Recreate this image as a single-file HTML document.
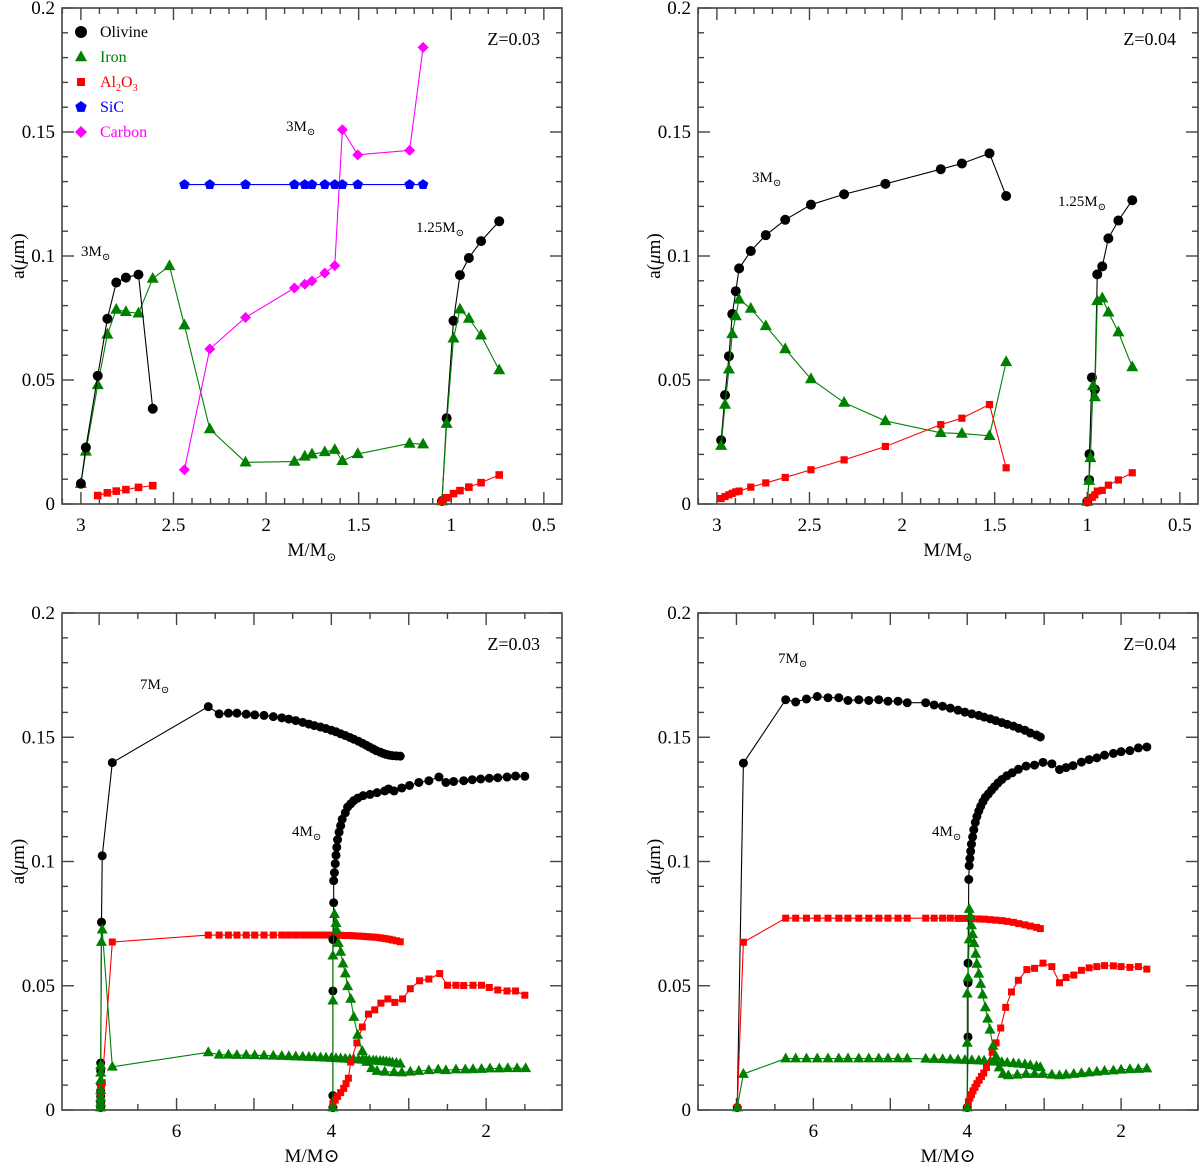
<!DOCTYPE html>
<html><head><meta charset="utf-8"><style>
body{margin:0;background:#fff}
svg{display:block}
text{font-family:"Liberation Serif","DejaVu Serif",serif}
</style></head><body>
<svg id="fig" width="1200" height="1165" viewBox="0 0 1200 1165" xmlns="http://www.w3.org/2000/svg"></svg>
<script>
// ---------- Panel A: Z=0.03, 3Msun & 1.25Msun ----------
const a_ol3_x=[3.0,2.973,2.909,2.857,2.809,2.757,2.689,2.612];
const a_ol3_y=[0.0082,0.0228,0.0517,0.0747,0.0893,0.0913,0.0925,0.0384];
const a_fe3_x=[3.0,2.973,2.909,2.857,2.809,2.757,2.689,2.612,2.522,2.441,2.304,2.111,1.847,1.791,1.752,1.683,1.629,1.588,1.505,1.225,1.152];
const a_fe3_y=[0.0082,0.0212,0.048,0.0684,0.0784,0.0775,0.0769,0.0909,0.096,0.0721,0.0302,0.0168,0.0171,0.0192,0.0201,0.021,0.0219,0.0174,0.0202,0.0244,0.0241];
const a_al3_x=[2.909,2.857,2.809,2.757,2.689,2.612];
const a_al3_y=[0.0034,0.0045,0.0052,0.0058,0.0067,0.0074];
const a_c_x=[2.441,2.304,2.111,1.847,1.791,1.752,1.683,1.629,1.588,1.505,1.225,1.152];
const a_sic_y=[0.1288,0.1288,0.1288,0.1288,0.1288,0.1288,0.1288,0.1288,0.1288,0.1288,0.1288,0.1288];
const a_carb_y=[0.0138,0.0625,0.0752,0.0871,0.0886,0.0899,0.0931,0.0961,0.1509,0.1408,0.1426,0.1841];
const a_ol1_x=[1.05,1.025,0.988,0.953,0.905,0.839,0.741];
const a_ol1_y=[0.0012,0.0346,0.0739,0.0923,0.0992,0.106,0.114];
const a_fe1_y=[0.0012,0.0324,0.0668,0.0785,0.0748,0.068,0.054];
const a_al1_y=[0.0012,0.0025,0.0042,0.0054,0.0068,0.0086,0.0117];
// ---------- Panel B: Z=0.04, 3Msun & 1.25Msun ----------
const b_3_x=[2.977,2.956,2.935,2.917,2.898,2.88,2.817,2.736,2.631,2.492,2.313,2.09,1.791,1.677,1.528,1.438];
const b_ol3_y=[0.0257,0.0439,0.0596,0.0766,0.0858,0.095,0.102,0.1084,0.1146,0.1207,0.1249,0.1291,0.135,0.1373,0.1414,0.1242];
const b_fe3_y=[0.0235,0.0401,0.0543,0.0686,0.0758,0.0825,0.0788,0.0718,0.0625,0.0504,0.0409,0.0335,0.0287,0.0284,0.0275,0.0573];
const b_al3_y=[0.0022,0.003,0.0037,0.0043,0.0049,0.0052,0.0068,0.0085,0.0107,0.0138,0.0178,0.0232,0.032,0.0346,0.0401,0.0146];
const b_ol1_x=[1.0,0.99,0.988,0.975,0.959,0.946,0.919,0.886,0.832,0.757];
const b_ol1_y=[0.001,0.0097,0.0201,0.051,0.0462,0.0926,0.0958,0.1071,0.1143,0.1225];
const b_fe1_x=[1.0,0.99,0.983,0.969,0.959,0.946,0.919,0.886,0.832,0.757];
const b_fe1_y=[0.001,0.0094,0.0186,0.0476,0.0431,0.0819,0.083,0.0773,0.0693,0.0552];
const b_al1_x=[1.0,0.973,0.959,0.946,0.919,0.886,0.832,0.757];
const b_al1_y=[0.001,0.0027,0.0037,0.0052,0.0055,0.0076,0.0097,0.0126];
// ---------- Panel C: Z=0.03, 7Msun & 4Msun ----------
const c_7_x=[6.98,6.98,6.98,6.98,6.98,6.98,6.98,6.97,6.96,6.83,5.59,5.45,5.33,5.22,5.10,4.99,4.87,4.75,4.64,4.55,4.46,4.37,4.29,4.22,4.14,4.07,4.00,3.94,3.88,3.82,3.76,3.71,3.65,3.60,3.55,3.51,3.46,3.42,3.37,3.33,3.29,3.25,3.21,3.16,3.11];
const c_ol7_y=[0.001,0.003,0.0055,0.0077,0.0106,0.0157,0.0189,0.0756,0.1023,0.1398,0.1623,0.1594,0.1597,0.1597,0.1593,0.159,0.1588,0.1583,0.1578,0.1573,0.1567,0.156,0.1553,0.1547,0.1541,0.1535,0.1528,0.1522,0.1514,0.1507,0.1499,0.1492,0.1484,0.1476,0.1468,0.1461,0.1453,0.1446,0.144,0.1435,0.1431,0.1428,0.1426,0.1425,0.1424];
const c_fe7_y=[0.001,0.003,0.005,0.008,0.012,0.015,0.018,0.0676,0.0726,0.0174,0.0232,0.0222,0.0222,0.0221,0.0221,0.022,0.0219,0.0218,0.0217,0.0216,0.0215,0.0214,0.0213,0.0212,0.0211,0.021,0.0209,0.0208,0.0207,0.0206,0.0205,0.0204,0.0203,0.0202,0.0201,0.02,0.0199,0.0198,0.0197,0.0196,0.0195,0.0193,0.0191,0.0189,0.0186];
const c_al7_y=[0.001,0.002,0.003,0.004,0.006,0.008,0.009,0.01,0.011,0.0676,0.0704,0.0704,0.0704,0.0704,0.0704,0.0704,0.0704,0.0704,0.0704,0.0704,0.0704,0.0704,0.0704,0.0704,0.0704,0.0704,0.0704,0.0703,0.0703,0.0702,0.0702,0.0701,0.07,0.0699,0.0698,0.0697,0.0696,0.0695,0.0693,0.0691,0.0689,0.0687,0.0684,0.0681,0.0677];
const c_ol4_x=[3.98,3.98,3.98,3.98,3.97,3.97,3.96,3.95,3.94,3.93,3.92,3.90,3.88,3.86,3.82,3.79,3.75,3.71,3.66,3.59,3.50,3.41,3.31,3.26,3.19,3.09,2.99,2.87,2.74,2.61,2.52,2.42,2.29,2.18,2.07,1.96,1.85,1.73,1.62,1.50];
const c_ol4_y=[0.001,0.0058,0.0479,0.0686,0.0834,0.0923,0.0955,0.0991,0.1025,0.1057,0.1088,0.1118,0.1144,0.117,0.1196,0.1219,0.1232,0.1245,0.1255,0.1265,0.127,0.1277,0.1284,0.1292,0.1284,0.1296,0.1306,0.1318,0.1325,0.134,0.1318,0.1322,0.1325,0.1329,0.1332,0.1335,0.1337,0.134,0.1344,0.1343];
const c_al4_x=[3.98,3.98,3.95,3.92,3.88,3.84,3.81,3.78,3.75,3.67,3.60,3.52,3.44,3.36,3.27,3.18,3.08,2.98,2.86,2.74,2.60,2.50,2.39,2.29,2.17,2.06,1.96,1.85,1.73,1.62,1.50];
const c_al4_y=[0.001,0.0026,0.004,0.0055,0.007,0.0087,0.0106,0.0128,0.0193,0.027,0.0334,0.0386,0.0403,0.043,0.0447,0.0433,0.0447,0.0488,0.052,0.0527,0.0549,0.0502,0.0502,0.0501,0.0502,0.0502,0.0493,0.0483,0.0479,0.0479,0.0462];
const c_fe4_x=[3.98,3.98,3.98,3.96,3.94,3.93,3.91,3.88,3.85,3.82,3.79,3.75,3.71,3.66,3.60,3.54,3.48,3.41,3.31,3.19,3.09,2.98,2.87,2.74,2.62,2.52,2.39,2.27,2.17,2.06,1.95,1.83,1.72,1.60,1.49];
const c_fe4_y=[0.001,0.044,0.0621,0.0788,0.0752,0.0723,0.0672,0.0636,0.0589,0.0549,0.0498,0.0447,0.0374,0.0302,0.0237,0.0193,0.0168,0.0157,0.0154,0.0152,0.0151,0.0154,0.0157,0.016,0.0163,0.016,0.0163,0.0163,0.0164,0.0165,0.0167,0.0167,0.0168,0.0168,0.0168];
// ---------- Panel D: Z=0.04, 7Msun & 4Msun ----------
const d_7_x=[6.99,6.91,6.36,6.23,6.09,5.95,5.81,5.67,5.55,5.41,5.28,5.15,5.03,4.90,4.78,4.54,4.43,4.32,4.22,4.12,4.03,3.94,3.85,3.78,3.70,3.63,3.55,3.48,3.40,3.33,3.25,3.18,3.10,3.05];
const d_ol7_y=[0.001,0.1396,0.1651,0.1642,0.1654,0.1664,0.1659,0.1659,0.1648,0.1651,0.1648,0.1651,0.1645,0.1645,0.1639,0.1639,0.163,0.1625,0.1617,0.1609,0.1601,0.1594,0.1588,0.1581,0.1574,0.1567,0.1559,0.1552,0.1545,0.1536,0.1528,0.1517,0.1509,0.1501];
const d_al7_y=[0.001,0.0675,0.0772,0.0772,0.0772,0.0772,0.0772,0.0772,0.0772,0.0772,0.0772,0.0772,0.0772,0.0772,0.0772,0.0772,0.0772,0.0772,0.0772,0.0771,0.0771,0.077,0.0769,0.0768,0.0766,0.0764,0.0762,0.0759,0.0755,0.075,0.0745,0.074,0.0735,0.073];
const d_fe7_y=[0.001,0.0145,0.0207,0.0207,0.0207,0.0207,0.0207,0.0207,0.0207,0.0207,0.0207,0.0207,0.0207,0.0207,0.0207,0.0206,0.0205,0.0204,0.0203,0.0202,0.0201,0.02,0.0199,0.0198,0.0196,0.0194,0.0192,0.019,0.0188,0.0186,0.0184,0.018,0.0176,0.0172];
const d_ol4_x=[4.0,3.99,3.99,3.99,3.98,3.975,3.965,3.955,3.945,3.93,3.915,3.895,3.875,3.85,3.825,3.795,3.765,3.725,3.685,3.645,3.60,3.55,3.485,3.415,3.335,3.235,3.125,3.015,2.90,2.80,2.715,2.625,2.515,2.415,2.315,2.215,2.10,2.00,1.885,1.775,1.665];
const d_ol4_y=[0.001,0.0294,0.0512,0.0591,0.0928,0.0983,0.1012,0.1041,0.107,0.1099,0.1128,0.1157,0.1181,0.1203,0.1222,0.1241,0.1258,0.1272,0.1287,0.1301,0.1316,0.133,0.1345,0.1357,0.1371,0.1384,0.1388,0.1399,0.1393,0.137,0.1378,0.1386,0.14,0.141,0.1417,0.1428,0.1435,0.1442,0.1446,0.1457,0.1461];
const d_al4_x=[4.0,3.985,3.965,3.945,3.925,3.90,3.875,3.845,3.815,3.785,3.75,3.675,3.625,3.565,3.50,3.425,3.335,3.225,3.125,3.015,2.90,2.80,2.715,2.615,2.515,2.415,2.315,2.215,2.10,2.00,1.885,1.775,1.665];
const d_al4_y=[0.001,0.0033,0.0048,0.0062,0.0077,0.0091,0.0106,0.012,0.0135,0.0149,0.0171,0.0232,0.027,0.033,0.0413,0.0475,0.0522,0.0565,0.057,0.0591,0.0577,0.0512,0.0533,0.0543,0.0562,0.0572,0.0577,0.0581,0.058,0.0577,0.0574,0.0577,0.0567];
const d_fe4_x=[4.0,4.0,4.0,3.99,3.975,3.975,3.96,3.945,3.93,3.91,3.89,3.875,3.85,3.825,3.80,3.765,3.735,3.705,3.665,3.625,3.585,3.535,3.465,3.35,3.235,3.125,3.015,2.90,2.80,2.715,2.615,2.515,2.415,2.315,2.215,2.10,2.00,1.885,1.775,1.665];
const d_fe4_y=[0.001,0.027,0.0468,0.0533,0.0686,0.0809,0.078,0.0743,0.0707,0.0671,0.0628,0.0588,0.0548,0.0507,0.0464,0.0413,0.0367,0.0323,0.0258,0.0214,0.0171,0.0145,0.0139,0.0142,0.0145,0.0145,0.0145,0.0142,0.0139,0.0142,0.0145,0.0148,0.0151,0.0154,0.0157,0.0159,0.0162,0.0164,0.0165,0.0167];
// ticks
const yTicks=[0,0.05,0.1,0.15,0.2];
const yTickLabels=["0","0.05","0.1","0.15","0.2"];
const topXTicks=[3,2.5,2,1.5,1,0.5];
const topXTickLabels=["3","2.5","2","1.5","1","0.5"];
const botXTicks=[6,4,2];
const botXTickLabels=["6","4","2"];

const NS="http://www.w3.org/2000/svg";
const svg=document.getElementById('fig');
function mk(tag,attrs,parent){const e=document.createElementNS(NS,tag);for(const k in attrs)e.setAttribute(k,attrs[k]);(parent||svg).appendChild(e);return e;}
const C={ol:"#000000",fe:"#008000",al:"#ff0000",sic:"#0000ff",c:"#ff00ff"};

function makePanel(name,L,T,W,H,x0,x1){
  const g=mk('g',{});
  
  
  const sx=v=>L+(x0-v)/(x0-x1)*W;
  const sy=v=>T+H-(v/0.2)*H;
  return {g,sx,sy,L,T,W,H,x0,x1};
}
function drawAxes(p,xMajor,xMinor,xLabs,xLabVals,title){
  const {g,sx,sy,L,T,W,H}=p;
  const fr=mk('rect',{x:L,y:T,width:W,height:H,fill:'none',stroke:'#444',"stroke-width":1.6},g);
  
  
  const tk=mk('g',{stroke:'#444',"stroke-width":1.4},g);
  
  
  // y ticks
  for(let i=0;i<=20;i++){const v=i*0.01;const y=sy(v);const len=(i%5===0)?12:6;
    mk('line',{x1:L,y1:y,x2:L+len,y2:y},tk);mk('line',{x1:L+W,y1:y,x2:L+W-len,y2:y},tk);}
  for(const v of xMinor){const x=sx(v);if(x<L||x>L+W)continue;const len=xMajor.some(m=>Math.abs(m-v)<1e-6)?12:6;
    mk('line',{x1:x,y1:T+H,x2:x,y2:T+H-len},tk);mk('line',{x1:x,y1:T,x2:x,y2:T+len},tk);}
  for(let i=0;i<yTicks.length;i++){
    const t=mk('text',{x:L-7,y:sy(yTicks[i])+6,"text-anchor":"end","font-size":19,fill:'#000'},g);
    t.textContent=yTickLabels[i];
    
    
  }
  for(let i=0;i<xLabVals.length;i++){
    const t=mk('text',{x:sx(xLabVals[i]),y:T+H+27,"text-anchor":"middle","font-size":19,fill:'#000'},g);
    t.textContent=xLabs[i];
    
    
  }
  const yt=mk('text',{x:0,y:0,transform:`translate(${L-38},${T+H/2}) rotate(-90)`,"text-anchor":"middle","font-size":19,fill:'#000'},g);
  yt.innerHTML='a(<tspan font-style="italic">μ</tspan>m)';
  
  
  const zt=mk('text',{x:L+W-22,y:T+37,"text-anchor":"end","font-size":18,fill:'#000'},g);
  zt.textContent=title;
  
  
}
function xTitle(p,sun){
  const t=mk('text',{x:p.L+p.W/2,y:p.T+p.H+52,"text-anchor":"middle","font-size":19,fill:'#000'},p.g);
  if(sun) t.innerHTML='M/M<tspan font-size="12" dy="5">⊙</tspan>'; else t.textContent='M/M⊙';
  
  
}
function marker(g,type,x,y,col,s){
  if(type==='c') return mk('circle',{cx:x,cy:y,r:s,fill:col},g);
  if(type==='t') return mk('polygon',{points:`${x},${y-s*1.1} ${x-s},${y+s*0.7} ${x+s},${y+s*0.7}`,fill:col},g);
  if(type==='s') return mk('rect',{x:x-s,y:y-s,width:2*s,height:2*s,fill:col},g);
  if(type==='d') return mk('polygon',{points:`${x},${y-s} ${x+s},${y} ${x},${y+s} ${x-s},${y}`,fill:col},g);
  if(type==='p'){let pts=[];for(let i=0;i<5;i++){const a=-Math.PI/2+i*2*Math.PI/5;pts.push((x+s*Math.cos(a))+','+(y+s*Math.sin(a)));}return mk('polygon',{points:pts.join(' '),fill:col},g);}
}
function series(p,name,xs,ys,type,col,s){
  const g=mk('g',{},p.g);
  
  
  const pts=xs.map((v,i)=>p.sx(v)+','+p.sy(ys[i])).join(' ');
  mk('polyline',{points:pts,fill:'none',stroke:col,"stroke-width":1.1},g);
  for(let i=0;i<xs.length;i++){
    const m=marker(g,type,p.sx(xs[i]),p.sy(ys[i]),col,s);
    
    
  }
}
function label(p,txt,x,y){
  const t=mk('text',{x:x,y:y,"font-size":15,fill:'#000'},p.g);
  t.innerHTML=txt+'M<tspan font-size="10" dy="4">⊙</tspan>';
  
  
}
const topMinor=[];for(let i=4;i<=31;i++)topMinor.push(i/10);
const botMinor=[];for(let i=2;i<=15;i++)botMinor.push(i/2);

// Panel A
const A=makePanel('panel-z003-low-mass',62,8,500,496,3.102,0.402);
drawAxes(A,topXTicks,topMinor,topXTickLabels,topXTicks,'Z=0.03');xTitle(A,true);
series(A,'iron-3msun',a_fe3_x,a_fe3_y,'t',C.fe,6);
series(A,'carbon-3msun',a_c_x,a_carb_y,'d',C.c,5.5);
series(A,'sic-3msun',a_c_x,a_sic_y,'p',C.sic,5.5);
series(A,'olivine-3msun',a_ol3_x,a_ol3_y,'c',C.ol,5);
series(A,'al2o3-3msun',a_al3_x,a_al3_y,'s',C.al,3.8);
series(A,'olivine-1.25msun',a_ol1_x,a_ol1_y,'c',C.ol,5);
series(A,'iron-1.25msun',a_ol1_x,a_fe1_y,'t',C.fe,6);
series(A,'al2o3-1.25msun',a_ol1_x,a_al1_y,'s',C.al,3.8);
label(A,'3',286,131);label(A,'1.25',416,232);label(A,'3',81,256);
// legend
const lg=mk('g',{},A.g);


const legItems=[['c',C.ol,'Olivine'],['t',C.fe,'Iron'],['s',C.al,'Al<tspan font-size="10" dy="4">2</tspan><tspan dy="-4">O</tspan><tspan font-size="10" dy="4">3</tspan>'],['p',C.sic,'SiC'],['d',C.c,'Carbon']];
legItems.forEach((it,i)=>{
  const y=32+i*25;
  const m=marker(lg,it[0],81,y,it[1],it[0]==='s'?4:6);
  
  
  const t=mk('text',{x:100,y:y+5,"font-size":16,fill:it[1]},lg);
  t.innerHTML=it[2];
  
  
});

// Panel B
const B=makePanel('panel-z004-low-mass',698,8,500,496,3.102,0.402);
drawAxes(B,topXTicks,topMinor,topXTickLabels,topXTicks,'Z=0.04');xTitle(B,true);
series(B,'olivine-3msun',b_3_x,b_ol3_y,'c',C.ol,5);
series(B,'iron-3msun',b_3_x,b_fe3_y,'t',C.fe,6);
series(B,'al2o3-3msun',b_3_x,b_al3_y,'s',C.al,3.6);
series(B,'olivine-1.25msun',b_ol1_x,b_ol1_y,'c',C.ol,5);
series(B,'iron-1.25msun',b_fe1_x,b_fe1_y,'t',C.fe,6);
series(B,'al2o3-1.25msun',b_al1_x,b_al1_y,'s',C.al,3.6);
label(B,'3',752,182);label(B,'1.25',1058,206);

// Panel C
const Cp=makePanel('panel-z003-high-mass',62,613,500,497,7.48,1.02);
drawAxes(Cp,[7,6,5,4,3,2],botMinor,botXTickLabels,botXTicks,'Z=0.03');xTitle(Cp,false);
series(Cp,'olivine-7msun',c_7_x,c_ol7_y,'c',C.ol,4.5);
series(Cp,'al2o3-7msun',c_7_x,c_al7_y,'s',C.al,3.5);
series(Cp,'iron-7msun',c_7_x,c_fe7_y,'t',C.fe,5.5);
series(Cp,'olivine-4msun',c_ol4_x,c_ol4_y,'c',C.ol,4.5);
series(Cp,'al2o3-4msun',c_al4_x,c_al4_y,'s',C.al,3.5);
series(Cp,'iron-4msun',c_fe4_x,c_fe4_y,'t',C.fe,5.5);
label(Cp,'7',140,689);label(Cp,'4',292,836);

// Panel D
const D=makePanel('panel-z004-high-mass',698,613,500,497,7.5,1.0);
drawAxes(D,[7,6,5,4,3,2],botMinor,botXTickLabels,botXTicks,'Z=0.04');xTitle(D,false);
series(D,'olivine-7msun',d_7_x,d_ol7_y,'c',C.ol,4.5);
series(D,'al2o3-7msun',d_7_x,d_al7_y,'s',C.al,3.5);
series(D,'iron-7msun',d_7_x,d_fe7_y,'t',C.fe,5.5);
series(D,'olivine-4msun',d_ol4_x,d_ol4_y,'c',C.ol,4.5);
series(D,'al2o3-4msun',d_al4_x,d_al4_y,'s',C.al,3.5);
series(D,'iron-4msun',d_fe4_x,d_fe4_y,'t',C.fe,5.5);
label(D,'7',778,663);label(D,'4',932,836);
</script>
</body></html>
